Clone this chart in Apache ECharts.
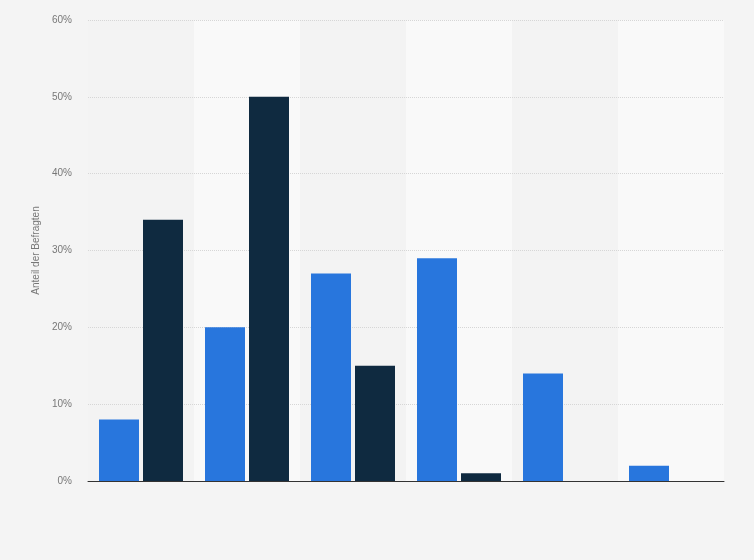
<!DOCTYPE html>
<html>
<head>
<meta charset="utf-8">
<script src="https://cdn.jsdelivr.net/npm/echarts@6/dist/echarts.min.js"></script>
<style>
  html, body { margin: 0; padding: 0; background: #f4f4f4; }
  #main { width: 754px; height: 560px; }
</style>
</head>
<body>
<div id="main"></div>
<script>
// Kategorien (keine Beschriftung im Original sichtbar)
var categories = ['1', '2', '3', '4', '5', '6'];
// Werte in Prozent
var seriesBlue = [8, 20, 27, 29, 14, 2];
var seriesDark = [34, 50, 15, 1, 0, 0];
var yTicks = [0, 10, 20, 30, 40, 50, 60];

var myChart = echarts.init(document.getElementById('main'));
var option = {
    backgroundColor: '#f4f4f4',
    animation: false,
    grid: {
        left: 88,
        right: 30,
        top: 20,
        bottom: 79
    },
    xAxis: {
        type: 'category',
        data: categories,
        z: 0,
        axisLine: { show: true, lineStyle: { color: '#333', width: 1 } },
        axisTick: { show: false },
        axisLabel: { show: false },
        splitArea: {
            show: true,
            areaStyle: { color: ['#f3f3f3', '#f9f9f9'] }
        }
    },
    yAxis: {
        type: 'value',
        z: 1,
        min: yTicks[0],
        max: yTicks[yTicks.length - 1],
        interval: 10,
        name: 'Anteil der Befragten',
        nameLocation: 'middle',
        nameGap: 39,
        nameTextStyle: { color: '#777', fontSize: 10, fontFamily: 'Liberation Sans' },
        axisLine: { show: false },
        axisTick: { show: false },
        axisLabel: {
            color: '#777',
            fontSize: 10,
            fontFamily: 'Liberation Sans',
            margin: 16,
            formatter: '{value}%'
        },
        splitLine: {
            show: true,
            showMinLine: false,
            lineStyle: { color: '#d6d6d6', type: [1, 1], width: 1 }
        }
    },
    series: [
        {
            type: 'bar',
            data: seriesBlue,
            barWidth: 40,
            barGap: '10%',
            z: 3,
            itemStyle: { color: '#2876dd' }
        },
        {
            type: 'bar',
            data: seriesDark,
            barWidth: 40,
            barGap: '10%',
            z: 3,
            itemStyle: { color: '#0f2a40' }
        }
    ]
};
myChart.setOption(option);
</script>
</body>
</html>
